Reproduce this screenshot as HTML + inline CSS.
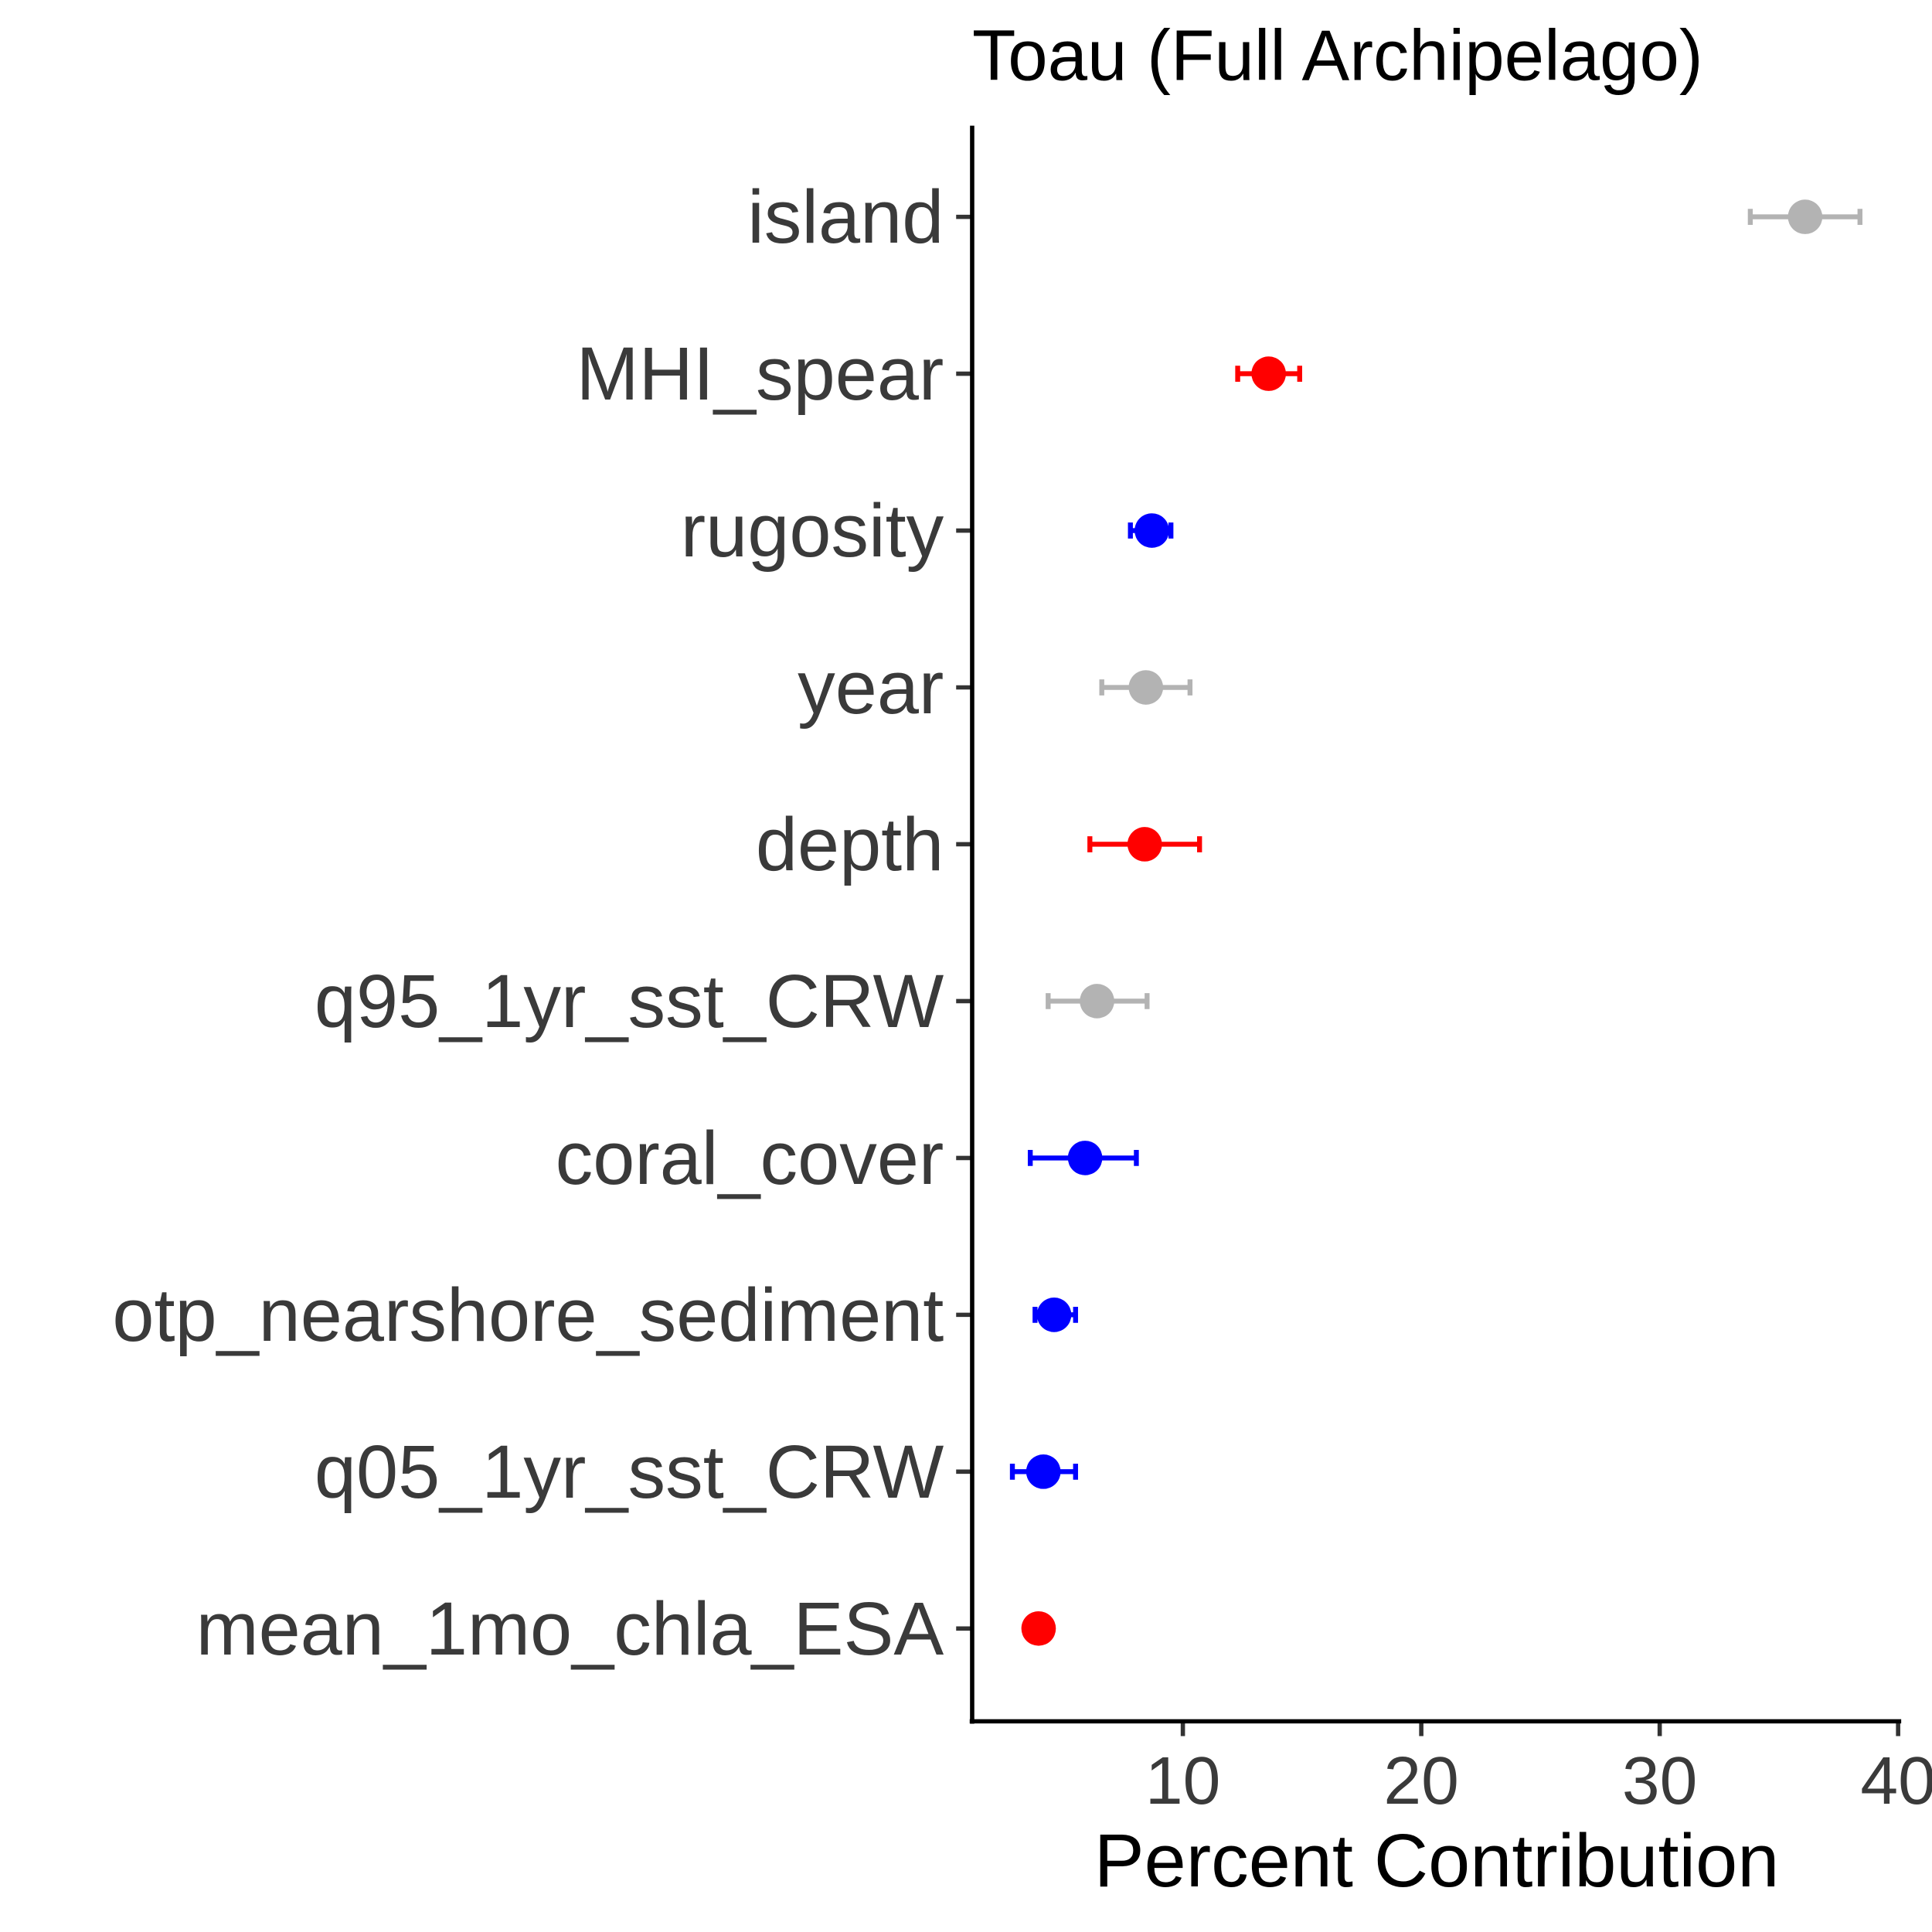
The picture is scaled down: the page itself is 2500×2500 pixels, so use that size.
<!DOCTYPE html>
<html><head><meta charset="utf-8"><style>
html,body{margin:0;padding:0;background:#fff}
svg{display:block}
text{font-family:"Liberation Sans",Arial,sans-serif}
</style></head><body>
<svg id="chart" width="2500" height="2500" viewBox="0 0 1568 1568" xmlns="http://www.w3.org/2000/svg">
<rect width="1568" height="1568" fill="#fff"/>
<text x="789" y="65" font-size="58" fill="#000">Toau (Full Archipelago)</text>
<g id="plot"></g>
<line x1="789" y1="102" x2="789" y2="1399" stroke="#000" stroke-width="3.5"/>
<line x1="787" y1="1397" x2="1543" y2="1397" stroke="#000" stroke-width="3.5"/>
<text x="1166" y="1531" font-size="61" text-anchor="middle" fill="#000">Percent Contribution</text>
</svg>
<script>
const categories=["island","MHI_spear","rugosity","year","depth","q95_1yr_sst_CRW","coral_cover","otp_nearshore_sediment","q05_1yr_sst_CRW","mean_1mo_chla_ESA"];
const values=[36.1,13.6,8.7,8.45,8.4,6.4,5.9,4.6,4.15,3.95];
const lower=[33.8,12.3,7.8,6.6,6.1,4.35,3.6,3.8,2.85,3.95];
const upper=[38.4,14.9,9.5,10.3,10.7,8.5,8.05,5.5,5.5,3.95];
const groups=["grey","red","blue","grey","red","grey","blue","blue","blue","red"];
const xTicks=[10,20,30,40];
const colorMap={grey:"#b3b3b3",red:"#ff0000",blue:"#0000ff"};
const xScale=v=>766.5+v*19.35;
const yScale=i=>176+i*127.3;
const NS="http://www.w3.org/2000/svg";
const g=document.getElementById("plot");
function mk(t,a){const e=document.createElementNS(NS,t);for(const k in a)e.setAttribute(k,a[k]);g.appendChild(e);return e;}
xTicks.forEach(t=>{
  const x=xScale(t);
  const tk=mk("line",{x1:x,y1:1397,x2:x,y2:1409,stroke:"#333",'stroke-width':3.5});
  
  
  const lb=mk("text",{x:x,y:1464,'font-size':55,'text-anchor':'middle',fill:'#3a3a3a'});
  lb.textContent=t;
  
  
});
categories.forEach((c,i)=>{
  const y=yScale(i);const col=colorMap[groups[i]];
  const tk=mk("line",{x1:776,y1:y,x2:789,y2:y,stroke:"#333",'stroke-width':3.5});
  
  
  const lb=mk("text",{x:766,y:y+21,'font-size':61,'text-anchor':'end',fill:'#3a3a3a'});
  lb.textContent=c;
  
  
  const x1=xScale(lower[i]),x2=xScale(upper[i]);
  if(x2-x1>1){
    const eb=mk("path",{d:`M${x1},${y-6.5}V${y+6.5}M${x1},${y}H${x2}M${x2},${y-6.5}V${y+6.5}`,stroke:col,'stroke-width':4,fill:'none'});
    
    
  }
  const p=mk("circle",{cx:xScale(values[i]),cy:y,r:14,fill:col});
  
  
});
</script>
</body></html>
